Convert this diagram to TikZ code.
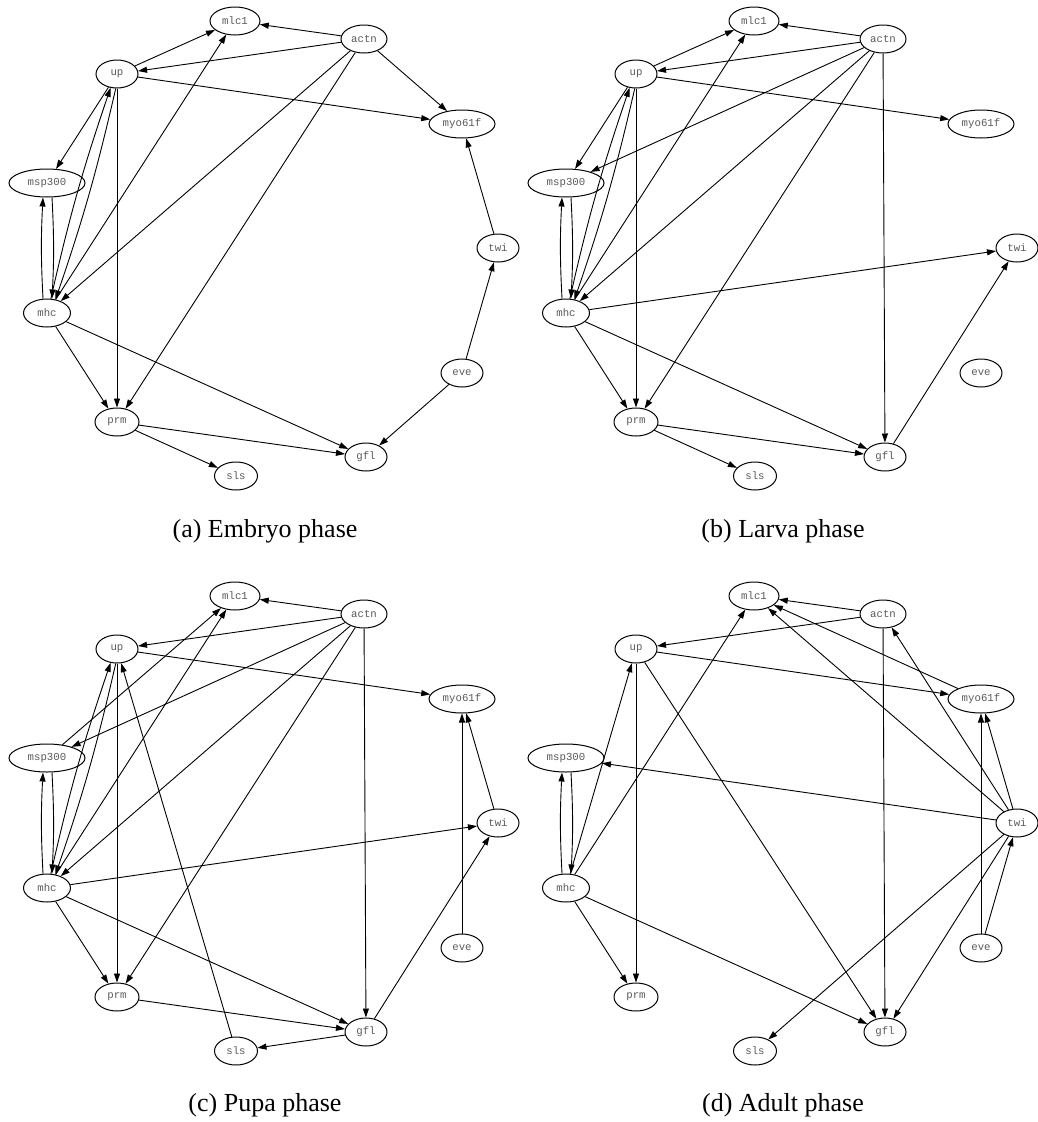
\documentclass[tikz,border=0pt]{standalone}
\usepackage{fontspec}
\setmainfont{Liberation Serif}
\newfontfamily\genefont{Liberation Mono}
\usetikzlibrary{arrows.meta,shapes.geometric}

\tikzset{
  gene/.style={ellipse, draw, line width=1pt, inner sep=0pt,
    minimum width=42pt, minimum height=28pt,
    font=\genefont\fontsize{10.7}{12}\selectfont, text=black!65},
  link/.style={-{Triangle[length=9pt,width=6pt]}, line width=0.9pt},
  phase/.style={font=\fontsize{26}{30}\selectfont}
}

\begin{document}
\begin{tikzpicture}[x=1pt,y=-1pt]
  \useasboundingbox (0,0) rectangle (1037,1122);

  % same circular layout in all four panels
  \foreach \p/\dx/\dy in {a/0/0, b/519/0, c/0/575, d/519/575} {
    \begin{scope}[shift={(\dx,\dy)}]
      \node[gene, minimum width=50pt] (\p-mlc1) at (235,21) {mlc1};
      \node[gene, minimum width=46pt] (\p-actn) at (364,39) {actn};
      \node[gene] (\p-up) at (117,74) {up};
      \node[gene, minimum width=66pt] (\p-myo61f) at (462,124) {myo61f};
      \node[gene, minimum width=76pt] (\p-msp300) at (47,183) {msp300};
      \node[gene] (\p-twi) at (498,248) {twi};
      \node[gene, minimum width=47pt] (\p-mhc) at (47,313) {mhc};
      \node[gene] (\p-eve) at (462,373) {eve};
      \node[gene, minimum width=44pt] (\p-prm) at (117,422) {prm};
      \node[gene] (\p-gfl) at (366,457) {gfl};
      \node[gene, minimum width=43pt] (\p-sls) at (236,476) {sls};
    \end{scope}
  }

  % (a) embryo
  \foreach \s/\t in {actn/mlc1, actn/up, actn/myo61f, actn/mhc, actn/prm,
      up/mlc1, up/myo61f, up/msp300, up/prm, mhc/mlc1, mhc/prm, mhc/gfl,
      prm/gfl, prm/sls, eve/twi, eve/gfl, twi/myo61f}
    \draw[link] (a-\s) -- (a-\t);

  % (b) larva
  \foreach \s/\t in {actn/mlc1, actn/up, actn/msp300, actn/mhc, actn/prm,
      actn/gfl, up/mlc1, up/myo61f, up/msp300, up/prm, mhc/mlc1, mhc/twi,
      mhc/prm, mhc/gfl, prm/gfl, prm/sls, gfl/twi}
    \draw[link] (b-\s) -- (b-\t);

  % (c) pupa
  \foreach \s/\t in {actn/mlc1, actn/up, actn/msp300, actn/mhc, actn/prm,
      actn/gfl, up/myo61f, up/prm, msp300/mlc1, mhc/mlc1, mhc/twi, mhc/prm,
      mhc/gfl, prm/gfl, gfl/sls, gfl/twi, sls/up, eve/myo61f, twi/myo61f}
    \draw[link] (c-\s) -- (c-\t);

  % (d) adult
  \foreach \s/\t in {actn/mlc1, actn/up, actn/gfl, up/myo61f, up/prm, up/gfl,
      mhc/up, mhc/mlc1, mhc/prm, mhc/gfl, myo61f/mlc1, twi/mlc1, twi/actn,
      twi/myo61f, twi/msp300, twi/sls, twi/gfl, eve/myo61f, eve/twi}
    \draw[link] (d-\s) -- (d-\t);

  % two-way pairs
  \foreach \p in {a,b,c} {
    \draw[link] (\p-up.265) to[bend left=3] (\p-mhc.58);
    \draw[link] (\p-mhc.75) to[bend left=3] (\p-up.245);
  }
  \foreach \p in {a,b,c,d} {
    \draw[link] ([xshift=-4pt]\p-mhc.north) to[bend left=3] ([xshift=-4pt]\p-msp300.south);
    \draw[link] ([xshift=5pt]\p-msp300.south) to[bend left=3] ([xshift=5pt]\p-mhc.north);
  }

  % captions
  \node[phase] (capa) at (265,531) {(a) Embryo phase};
  \node[phase] (capb) at (783,531) {(b) Larva phase};
  \node[phase] (capc) at (265,1105) {(c) Pupa phase};
  \node[phase] (capd) at (783,1105) {(d) Adult phase};
\end{tikzpicture}
\end{document}
